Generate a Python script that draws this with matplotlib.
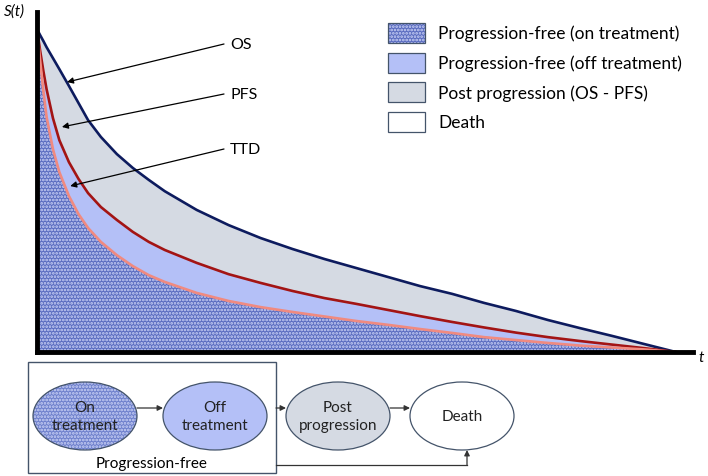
import matplotlib
matplotlib.use("Agg")
from matplotlib import pyplot as plt
from matplotlib.patches import Rectangle, Ellipse

plt.rcParams['font.family'] = ['Lato', 'DejaVu Sans']
plt.rcParams['hatch.linewidth'] = 1.3

# survival curves (common time grid)
t = [0, 0.05, 0.1, 0.15, 0.25, 0.35, 0.5, 0.65, 0.8, 1.0, 1.25, 1.5, 1.75, 2.0, 2.5,
     3.0, 3.5, 4.0, 4.5, 5.0, 5.5, 6.0, 6.5, 7.0, 7.5, 8.0, 8.5, 9.0, 9.5, 10.0]
os_s = [1.0, 0.981, 0.963, 0.944, 0.91, 0.876, 0.824, 0.771, 0.718, 0.666, 0.613, 0.57,
        0.533, 0.498, 0.44, 0.393, 0.353, 0.319, 0.288, 0.26, 0.232, 0.204, 0.18, 0.152,
        0.127, 0.099, 0.074, 0.05, 0.025, 0.0]
pfs_s = [1.0, 0.932, 0.87, 0.814, 0.724, 0.656, 0.588, 0.536, 0.492, 0.449, 0.409, 0.372,
         0.341, 0.316, 0.276, 0.241, 0.214, 0.189, 0.167, 0.149, 0.13, 0.111, 0.093, 0.076,
         0.06, 0.046, 0.034, 0.023, 0.012, 0.0]
ttd_s = [1.0, 0.901, 0.808, 0.728, 0.628, 0.557, 0.483, 0.427, 0.384, 0.341, 0.30, 0.266,
         0.238, 0.217, 0.183, 0.158, 0.139, 0.124, 0.11, 0.096, 0.084, 0.071, 0.059, 0.046,
         0.037, 0.028, 0.02, 0.014, 0.008, 0.0]

curve_names = ["OS", "PFS", "TTD"]
legend_labels = ["Progression-free (on treatment)", "Progression-free (off treatment)",
                 "Post progression (OS - PFS)", "Death"]
states = ["On\ntreatment", "Off\ntreatment", "Post\nprogression", "Death"]

ON_FACE = "#5a6cc0"
ON_DOTS = "#ccd3f6"
OFF_FACE = "#b4c0f7"
POST_FACE = "#d5dae3"
BOX_EDGE = "#44546a"

W, H = 708, 477
fig = plt.figure(figsize=(W / 100, H / 100), dpi=100)

# main survival plot
ax = fig.add_axes([37 / W, 1 - 353 / H, 656 / W, 340 / H])
ax.set_xlim(0, 10.27)
ax.set_ylim(0, 1.053)
ax.fill_between(t, 0, ttd_s, facecolor=ON_FACE, edgecolor=ON_DOTS, hatch='.....', linewidth=0)
ax.fill_between(t, ttd_s, pfs_s, facecolor=OFF_FACE, linewidth=0)
ax.fill_between(t, pfs_s, os_s, facecolor=POST_FACE, linewidth=0)
ax.plot(t, os_s, color="#0d1b5e", lw=1.9)
ax.plot(t, pfs_s, color="#a31414", lw=1.9)
ax.plot(t, ttd_s, color="#f08a80", lw=1.9)
for s in ["top", "right"]:
    ax.spines[s].set_visible(False)
ax.spines["left"].set_linewidth(3.5)
ax.spines["bottom"].set_linewidth(3.5)
ax.set_xticks([])
ax.set_yticks([])

# overlay axes in pixel coordinates
ov = fig.add_axes([0, 0, 1, 1])
ov.set_xlim(0, W)
ov.set_ylim(H, 0)
ov.axis("off")
ov.patch.set_alpha(0)

ov.text(4, 12, "S(t)", fontsize=11, style="italic", va="center", ha="left")
ov.text(698, 358, "t", fontsize=11, style="italic", va="center", ha="left")

# curve labels with arrows
tips = [(0.47, 0.836), (0.39, 0.697), (0.52, 0.514)]
label_y = [45, 95, 150]
for name, tip, ly in zip(curve_names, tips, label_y):
    ov.text(230, ly, name, fontsize=11.5, va="center", ha="left")
    ov.annotate("", xy=tip, xycoords=ax.transData, xytext=(224, ly), textcoords=ov.transData,
                arrowprops=dict(arrowstyle="-|>", color="black", lw=0.9, mutation_scale=9,
                                shrinkA=0, shrinkB=0))

# legend
faces = [ON_FACE, OFF_FACE, POST_FACE, "white"]
hatches = ['.....', None, None, None]
for i, (lab, fc, hb) in enumerate(zip(legend_labels, faces, hatches)):
    yc = 34 + i * 29.7
    if hb:
        ov.add_patch(Rectangle((388, yc - 10), 37, 20, facecolor=fc, edgecolor=ON_DOTS,
                               hatch=hb, lw=0))
    else:
        ov.add_patch(Rectangle((388, yc - 10), 37, 20, facecolor=fc, lw=0))
    ov.add_patch(Rectangle((388, yc - 10), 37, 20, facecolor="none", edgecolor=BOX_EDGE, lw=0.9))
    ov.text(438, yc, lab, fontsize=12.5, va="center", ha="left")

# state diagram
ov.add_patch(Rectangle((28, 363), 248, 111, facecolor="none", edgecolor=BOX_EDGE, lw=1))
ov.text(152, 464, "Progression-free", fontsize=11, ha="center", va="center")
centers = [85, 215, 338, 462]
ell_faces = ["#6e80cc", OFF_FACE, POST_FACE, "white"]
for st, cx, fc, hb in zip(states, centers, ell_faces, hatches):
    if hb:
        ov.add_patch(Ellipse((cx, 417), 104, 68, facecolor=fc, edgecolor=ON_DOTS, hatch=hb, lw=0))
    else:
        ov.add_patch(Ellipse((cx, 417), 104, 68, facecolor=fc, lw=0))
    ov.add_patch(Ellipse((cx, 417), 104, 68, facecolor="none", edgecolor=BOX_EDGE, lw=0.9))
    ov.text(cx, 417, st, fontsize=11, ha="center", va="center", linespacing=1.3, color="#222222")

arrow_kw = dict(arrowstyle="-|>", color="#333333", lw=0.9, mutation_scale=8, shrinkA=0, shrinkB=0)
for x0, x1 in [(137, 163), (276, 286), (390, 410)]:
    ov.annotate("", xy=(x1, 409), xytext=(x0, 409), arrowprops=arrow_kw)
ov.plot([276, 467], [466, 466], color="#333333", lw=0.9)
ov.annotate("", xy=(467, 451), xytext=(467, 466), arrowprops=arrow_kw)

fig.savefig("out.png", dpi=100)
